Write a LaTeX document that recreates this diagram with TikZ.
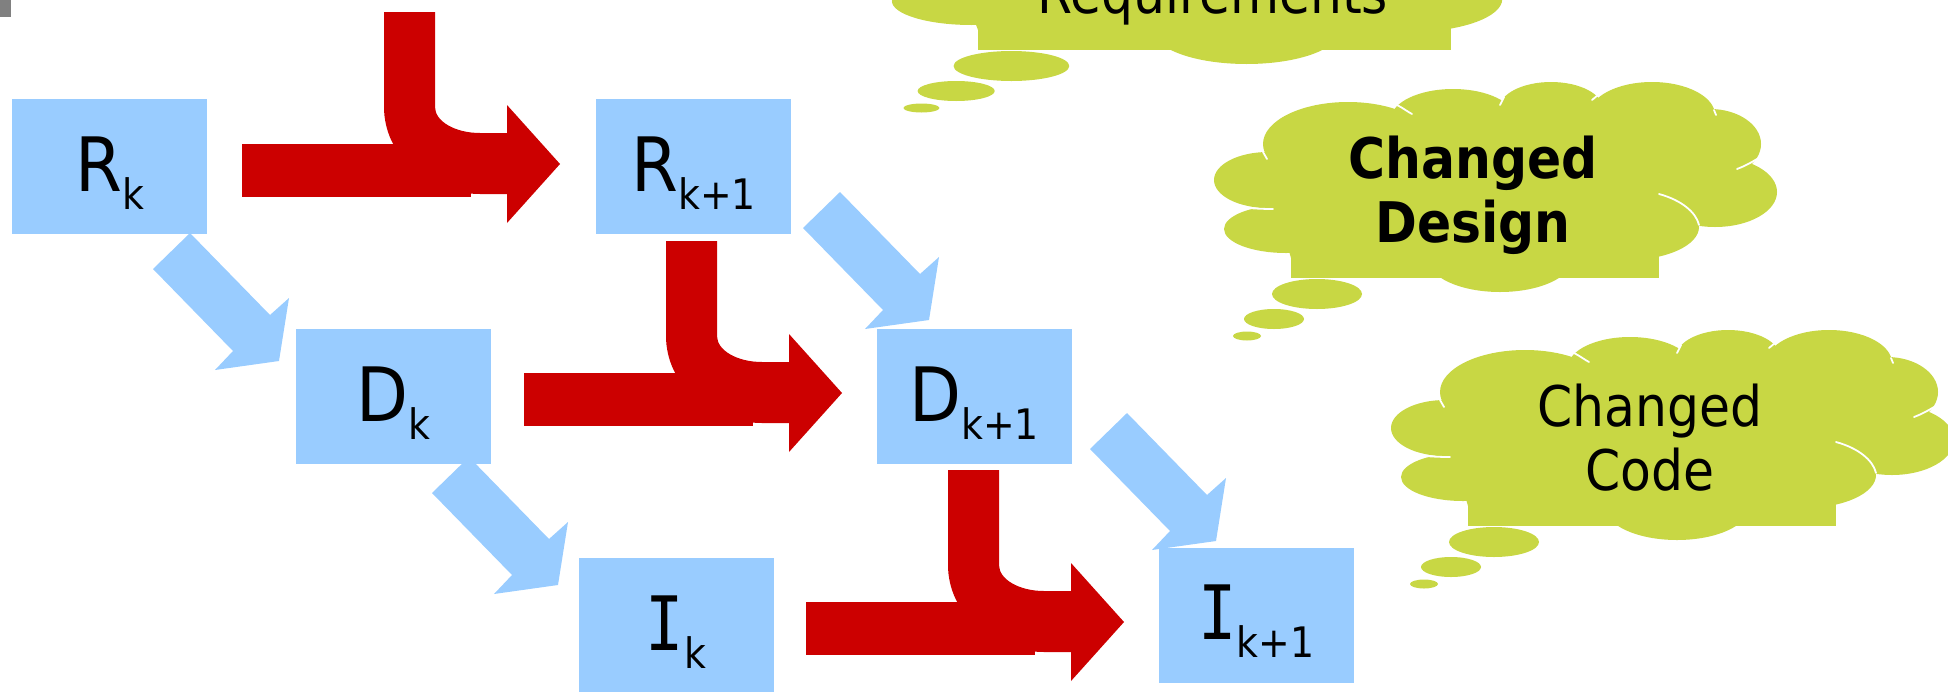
\documentclass[tikz,border=0pt]{standalone}
\usepackage{fontspec}
\setmainfont{DejaVu Sans}[FakeStretch=0.9]
\newfontfamily\monoIfont{DejaVu Sans Mono}[FakeStretch=0.85]
\usetikzlibrary{calc}
\definecolor{boxblue}{RGB}{153,204,255}
\definecolor{arrowred}{RGB}{204,0,0}
\definecolor{cloudgreen}{RGB}{200,215,68}
\definecolor{markgray}{RGB}{128,128,128}
\newcommand\boxsub[1]{\raisebox{-18pt}{\fontsize{42}{42}\selectfont #1}}
\tikzset{
  box/.style={fill=boxblue, minimum width=195pt, minimum height=135pt,
    inner sep=0pt, outer sep=0pt, text height=60pt, text depth=11pt,
    font=\fontsize{75}{75}\selectfont},
  cloudtext/.style={anchor=base, inner sep=0pt, font=\fontsize{56}{56}\selectfont},
  whitearc/.style={draw=white, line width=1.8pt, line cap=round},
  bluearrow/.pic={
    \fill[boxblue] (0,0) -- (80,82) -- (99,65) -- (89,128) -- (25,137)
      -- (43,118) -- (-37,36) -- cycle;
  },
  redarrow/.pic={
    \fill[arrowred] (-318,-20) rectangle (-89,33);
    \fill[arrowred] (-176,-152) -- (-125,-152) -- (-125,-57)
      .. controls (-125,-42.6) and (-104.8,-31) .. (-80,-31)
      -- (-53,-31) -- (-53,-59) -- (0,0) -- (-53,59) -- (-53,30) -- (-80,30)
      .. controls (-133,30) and (-176,-9) .. (-176,-57) -- cycle;
  },
  thoughtcloud/.pic={
    \fill[cloudgreen] (-23,-98) ellipse [x radius=54, y radius=28];
    \fill[cloudgreen] (-5,-49) ellipse [x radius=62, y radius=24];
    \fill[cloudgreen] (57,-134) ellipse [x radius=85, y radius=42];
    \fill[cloudgreen] (162,-159) ellipse [x radius=62, y radius=30];
    \fill[cloudgreen] (260,-169) ellipse [x radius=52, y radius=27];
    \fill[cloudgreen] (361,-163) ellipse [x radius=63, y radius=33];
    \fill[cloudgreen] (419,-134) ellipse [x radius=51, y radius=35];
    \fill[cloudgreen] (424,-86) ellipse [x radius=62, y radius=35];
    \fill[cloudgreen] (336,-51) ellipse [x radius=72, y radius=33];
    \fill[cloudgreen] (209,-19) ellipse [x radius=72, y radius=33];
    \fill[cloudgreen] (0,-80) rectangle (368,0);
    \fill[cloudgreen] (-23,-98) -- (57,-134) -- (162,-159) -- (260,-169)
      -- (361,-163) -- (419,-134) -- (424,-86) -- (336,-51) -- (209,-19)
      -- (0,-20) -- cycle;
    \fill[cloudgreen] (26,16) ellipse [x radius=45, y radius=15];
    \fill[cloudgreen] (-17,41) ellipse [x radius=30, y radius=10];
    \fill[cloudgreen] (-44,58) ellipse [x radius=14, y radius=4.5];
    \draw[whitearc] (106,-173) .. controls (112,-170) and (117,-166) .. (121,-164);
    \draw[whitearc] (209,-173) -- (213,-181);
    \draw[whitearc] (301,-178) -- (307,-183);
    \draw[whitearc] (423,-168) -- (425,-163);
    \draw[whitearc] (446,-109) .. controls (454,-112) and (461,-116) .. (466,-119);
    \draw[whitearc] (368,-84) .. controls (390,-78) and (405,-66) .. (408,-53);
    \draw[whitearc] (-52,-71) .. controls (-40,-69.5) and (-28,-69) .. (-18,-69);
    \draw[whitearc] (-28,-126) -- (-24,-119);
  }
}
\begin{document}
\begin{tikzpicture}[x=1pt, y=-1pt]
\useasboundingbox (0,0) rectangle (1948,691);
\fill[markgray] (0,0) rectangle (11,17);

% thought clouds
\pic[xscale=1.285] at (978,50) {thoughtcloud};
\pic at (1291,278) {thoughtcloud};
\pic at (1468,526) {thoughtcloud};
\node[cloudtext] (req) at (1213,13) {Requirements};
\node[cloudtext, font=\fontsize{56}{56}\selectfont\bfseries] (cd1) at (1473,178) {Changed};
\node[cloudtext, font=\fontsize{56}{56}\selectfont\bfseries] (cd2) at (1473,242) {Design};
\node[cloudtext] (cc1) at (1650,426) {Changed};
\node[cloudtext] (cc2) at (1650,490) {Code};

% boxes
\node[box] (Rk)  at (109.5,166.5) {R\boxsub{k}};
\node[box] (Rk1) at (693.5,166.5) {R\boxsub{k+1}};
\node[box] (Dk)  at (393,396.5)   {D\boxsub{k}};
\node[box] (Dk1) at (974,396.5)   {D\boxsub{k+1}};
\node[box] (Ik)  at (676,625.5)   {{\monoIfont I}\boxsub{k}};
\node[box] (Ik1) at (1256.5,615)  {{\monoIfont I}\boxsub{k+1}};

% blue block arrows (level to level)
\coordinate (ba1) at ($(Rk.south east)+(-17,-1)$);
\coordinate (ba2) at ($(Dk.south east)+(-21.5,-7)$);
\coordinate (ba3) at ($(Rk1.east)+(49,25.5)$);
\coordinate (ba4) at ($(Dk1.east)+(55.5,16.5)$);
\pic at (ba1) {bluearrow};
\pic at (ba2) {bluearrow};
\pic at (ba3) {bluearrow};
\pic at (ba4) {bluearrow};

% red merge arrows (version to version)
\coordinate (rt1) at ($(Rk1.west)+(-36,-2.5)$);
\coordinate (rt2) at ($(Dk1.west)+(-34.5,-3.5)$);
\coordinate (rt3) at ($(Ik1.west)+(-35,7)$);
\pic at (rt1) {redarrow};
\pic at (rt2) {redarrow};
\pic at (rt3) {redarrow};
\end{tikzpicture}
\end{document}
